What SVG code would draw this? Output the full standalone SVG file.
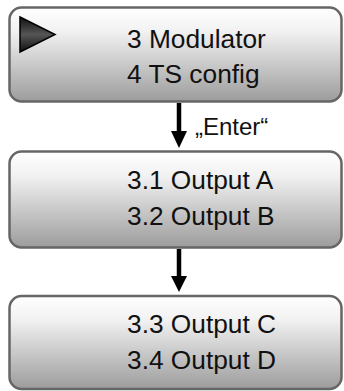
<svg xmlns="http://www.w3.org/2000/svg" width="344" height="391" viewBox="0 0 344 391">
<defs>
<linearGradient id="boxg" x1="0" y1="0" x2="0" y2="1">
<stop offset="0" stop-color="#ffffff"/>
<stop offset="0.25" stop-color="#f2f2f2"/>
<stop offset="1" stop-color="#9c9c9c"/>
</linearGradient>
<linearGradient id="trig" x1="0" y1="0" x2="0" y2="1">
<stop offset="0" stop-color="#111"/>
<stop offset="0.5" stop-color="#555"/>
<stop offset="1" stop-color="#111"/>
</linearGradient>
</defs>
<style>
.box{fill:url(#boxg);stroke:#666;stroke-width:2.5}
.t{font-family:"Liberation Sans",Arial,sans-serif;font-size:26.3px;fill:#111}
.lbl{font-family:"Liberation Sans",Arial,sans-serif;font-size:24px;fill:#111}
.shaft{stroke:#000;stroke-width:4.5}
</style>
<g id="node1">
<rect class="box" x="9.5" y="7.5" width="332" height="94" rx="12"/>
<polygon points="20,17 55,34.5 20,52" fill="url(#trig)" stroke="#000" stroke-width="1.5"/>
<text class="t" x="127" y="47.5">3 Modulator</text>
<text class="t" x="127" y="83">4 TS config</text>
</g>
<g id="node2">
<rect class="box" x="9.5" y="151.5" width="332" height="96" rx="12"/>
<text class="t" x="127" y="189">3.1 Output A</text>
<text class="t" x="127" y="225">3.2 Output B</text>
</g>
<g id="node3">
<rect class="box" x="9.5" y="296" width="332" height="93" rx="12"/>
<text class="t" x="127" y="333">3.3 Output C</text>
<text class="t" x="127" y="369">3.4 Output D</text>
</g>
<g id="connectors">
<line class="shaft" x1="179" y1="103" x2="179" y2="132"/>
<polygon points="171,131 187,131 179,148"/>
<text class="lbl" x="195" y="135">„Enter“</text>
<line class="shaft" x1="179" y1="249" x2="179" y2="277"/>
<polygon points="171,276 187,276 179,292"/>
</g>
</svg>
